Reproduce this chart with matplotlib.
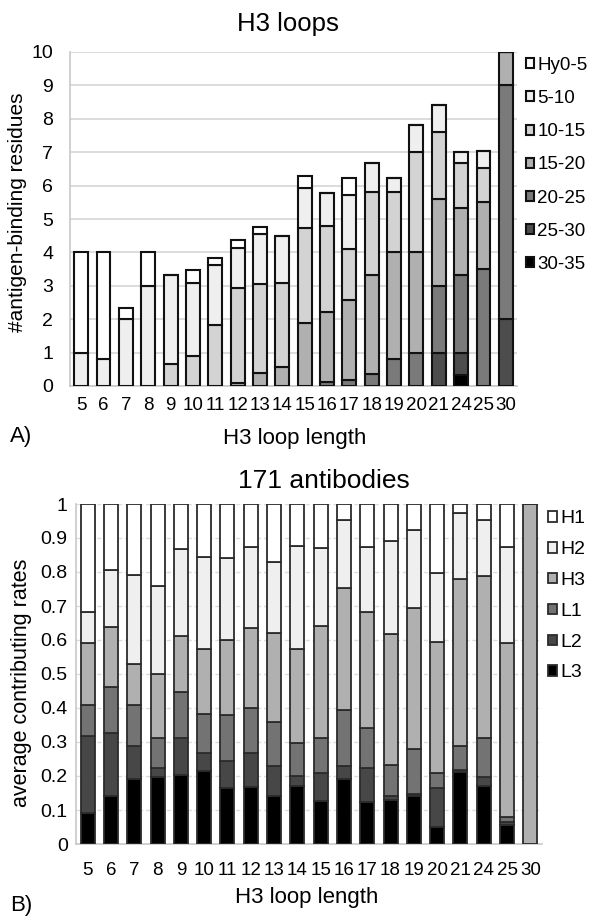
"""Stacked bar panels: H3 loop antigen-binding residues and contributing rates.
Saves: out.png
"""
import numpy as np
import matplotlib.pyplot as plt

plt.rcParams['font.family'] = ['Liberation Sans', 'DejaVu Sans']

# ---- panel A data ----
loop_len = ['5', '6', '7', '8', '9', '10', '11', '12', '13', '14',
            '15', '16', '17', '18', '19', '20', '21', '24', '25', '30']
a_labels = ['30-35', '25-30', '20-25', '15-20', '10-15', '5-10', 'Hy0-5']
a_colors = ['#000000', '#4d4d4d', '#7a7a7a', '#b0b0b0', '#d3d3d3', '#efefef', '#ffffff']
r30_35 = [0, 0, 0, 0, 0, 0, 0, 0, 0, 0, 0, 0, 0, 0, 0, 0, 0, 0.33, 0, 0]
r25_30 = [0, 0, 0, 0, 0, 0, 0, 0, 0, 0, 0, 0, 0, 0, 0, 0, 1.0, 0.65, 0, 2.0]
r20_25 = [0, 0, 0, 0, 0, 0, 0, 0, 0, 0, 0, 0.13, 0.18, 0.35, 0.8, 1.0, 2.0, 2.34, 3.5, 7.0]
r15_20 = [0, 0, 0, 0, 0, 0, 0, 0.1, 0.4, 0.56, 1.9, 2.1, 2.39, 2.97, 3.2, 3.0, 2.6, 2.0, 2.0, 1.0]
r10_15 = [0, 0, 0, 0, 0.66, 0.9, 1.83, 2.82, 2.64, 2.51, 2.84, 2.56, 1.52, 2.5, 1.82, 3.0, 2.0, 1.35, 1.03, 0]
r5_10 = [1.0, 0.8, 2.0, 3.0, 2.67, 2.17, 1.79, 1.2, 1.5, 1.43, 1.18, 0.98, 1.63, 0.85, 0.4, 0.81, 0.82, 0.35, 0.5, 0]
hy0_5 = [3.0, 3.2, 0.33, 1.0, 0, 0.4, 0.2, 0.25, 0.23, 0, 0.37, 0, 0.5, 0, 0, 0, 0, 0, 0, 0]

# ---- panel B data ----
b_labels = ['L3', 'L2', 'L1', 'H3', 'H2', 'H1']
b_colors = ['#000000', '#474747', '#737373', '#b0b0b0', '#efefef', '#ffffff']
L3 = [0.092, 0.141, 0.192, 0.196, 0.202, 0.215, 0.164, 0.169, 0.141, 0.172,
      0.127, 0.190, 0.125, 0.130, 0.141, 0.049, 0.213, 0.172, 0.056, 0]
L2 = [0.226, 0.186, 0.097, 0.029, 0.109, 0.052, 0.081, 0.100, 0.088, 0.029,
      0.083, 0.039, 0.098, 0.010, 0.005, 0.115, 0.004, 0.024, 0.010, 0]
L1 = [0.091, 0.136, 0.120, 0.086, 0.137, 0.115, 0.134, 0.132, 0.131, 0.095,
      0.103, 0.165, 0.119, 0.092, 0.132, 0.046, 0.071, 0.115, 0.014, 0]
H3 = [0.181, 0.176, 0.119, 0.188, 0.165, 0.192, 0.221, 0.235, 0.260, 0.278,
      0.329, 0.358, 0.341, 0.385, 0.415, 0.385, 0.491, 0.477, 0.510, 1.0]
H2 = [0.093, 0.167, 0.262, 0.261, 0.256, 0.271, 0.240, 0.239, 0.208, 0.303,
      0.228, 0.201, 0.190, 0.274, 0.231, 0.201, 0.194, 0.165, 0.283, 0]
H1 = [0.317, 0.194, 0.210, 0.240, 0.131, 0.155, 0.160, 0.125, 0.172, 0.123,
      0.130, 0.047, 0.127, 0.109, 0.076, 0.204, 0.027, 0.047, 0.127, 0]

W, H = 593, 921
fig = plt.figure(figsize=(W / 100, H / 100), dpi=100)

def stacked(ax, series, colors, labels, width, edge, lw):
    x = np.arange(len(loop_len))
    bottom = np.zeros(len(loop_len))
    for vals, c, lab in zip(series, colors, labels):
        vals = np.asarray(vals, dtype=float)
        ax.bar(x, vals, width, bottom=bottom, color=c, edgecolor=edge,
               linewidth=lw, label=lab, zorder=3)
        bottom += vals
    ax.set_xticks(x)
    ax.set_xticklabels(loop_len)
    ax.set_xlim(-0.5, len(loop_len) - 0.5)
    for s in ['top', 'right']:
        ax.spines[s].set_visible(False)
    for s in ['left', 'bottom']:
        ax.spines[s].set_color('#c8c8c8')
        ax.spines[s].set_linewidth(1.2)
    ax.tick_params(length=0)

# ---- A ----
axA = fig.add_axes([70 / W, 1 - 386 / H, 447 / W, 334 / H])
stacked(axA, [r30_35, r25_30, r20_25, r15_20, r10_15, r5_10, hy0_5],
        a_colors, a_labels, 0.62, '#111111', 1.5)
axA.set_ylim(0, 10)
axA.set_yticks(range(0, 11))
axA.grid(axis='y', color='#dcdcdc', linewidth=1.4, zorder=0)
axA.tick_params(axis='y', labelsize=14, pad=12)
axA.tick_params(axis='x', labelsize=13.5, pad=8)
hA, lA = axA.get_legend_handles_labels()
axA.legend(hA[::-1], lA[::-1], loc='upper left', bbox_to_anchor=(1.02, 0.985),
           frameon=False, fontsize=13.5, handlelength=0.45, handleheight=0.45,
           handletextpad=0.15, labelspacing=0.86, borderaxespad=0, borderpad=0)
fig.text(288 / W, 1 - 24 / H, 'H3 loops', ha='center', va='center', fontsize=18.5)
fig.text(18 / W, 1 - 212 / H, '#antigen-binding residues', rotation=90,
         ha='center', va='center', fontsize=15)
fig.text(295 / W, 1 - 438 / H, 'H3 loop length', ha='center', va='center', fontsize=16)
fig.text(10 / W, 1 - 436 / H, 'A)', ha='left', va='center', fontsize=16)

# ---- B ----
axB = fig.add_axes([76 / W, 1 - 844 / H, 466 / W, 340 / H])
stacked(axB, [L3, L2, L1, H3, H2, H1], b_colors, b_labels, 0.6, '#2b2b2b', 1.3)
axB.set_ylim(0, 1)
axB.set_yticks(np.round(np.arange(0, 1.01, 0.1), 1))
axB.set_yticklabels(['0', '0.1', '0.2', '0.3', '0.4', '0.5', '0.6', '0.7', '0.8', '0.9', '1'])
axB.grid(axis='y', color='#dcdcdc', linewidth=1.0, linestyle=(0, (3, 2)), zorder=0)
axB.tick_params(axis='y', labelsize=14, pad=6)
axB.tick_params(axis='x', labelsize=13.5, pad=13)
hB, lB = axB.get_legend_handles_labels()
axB.legend(hB[::-1], lB[::-1], loc='upper left', bbox_to_anchor=(1.013, 0.981),
           frameon=False, fontsize=14, handlelength=0.45, handleheight=0.45,
           handletextpad=0.2, labelspacing=0.71, borderaxespad=0, borderpad=0)
fig.text(324 / W, 1 - 481 / H, '171 antibodies', ha='center', va='center', fontsize=19)
fig.text(22 / W, 1 - 683 / H, 'average contributing rates', rotation=90,
         ha='center', va='center', fontsize=15.5)
fig.text(307 / W, 1 - 897 / H, 'H3 loop length', ha='center', va='center', fontsize=16)
fig.text(10 / W, 1 - 905 / H, 'B)', ha='left', va='center', fontsize=16)

fig.savefig('out.png', dpi=100)
plt.close(fig)
